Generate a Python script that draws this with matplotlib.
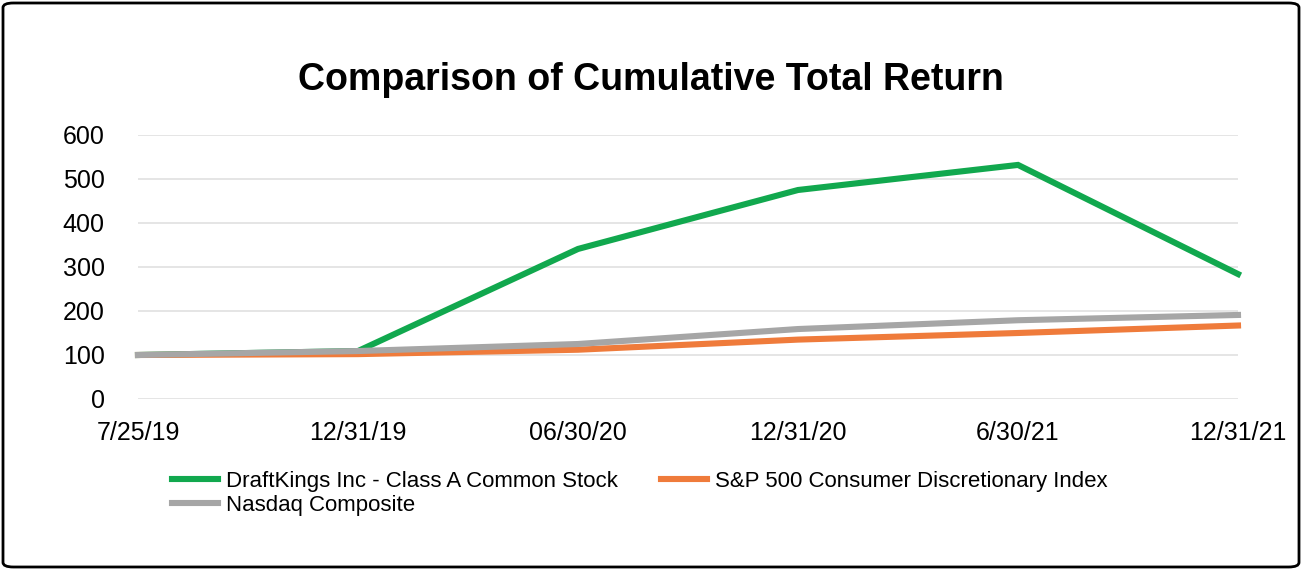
import matplotlib
matplotlib.use("Agg")
import matplotlib.pyplot as plt
from matplotlib.patches import FancyBboxPatch

categories = ["7/25/19", "12/31/19", "06/30/20", "12/31/20", "6/30/21", "12/31/21"]
draftkings = [100, 109, 341, 475, 532, 284]
sp500_cd = [100, 102, 112, 135, 150, 167]
nasdaq = [100, 109, 125, 159, 179, 191]
yticks = [0, 100, 200, 300, 400, 500, 600]

plt.rcParams['font.family'] = ['Liberation Sans', 'DejaVu Sans']

fig = plt.figure(figsize=(13.02, 5.70), dpi=100)
W, H = 1302, 570
ax = fig.add_axes([138 / W, 1 - 399 / H, (1238 - 138) / W, (399 - 135) / H])

x = list(range(len(categories)))
l1, = ax.plot(x, draftkings, color='#11A84E', lw=4.4, solid_joinstyle='miter',
              clip_on=False, zorder=3, label="DraftKings Inc - Class A Common Stock")
l2, = ax.plot(x, sp500_cd, color='#EF7B3B', lw=4.4, clip_on=False, zorder=4,
              label="S&P 500 Consumer Discretionary Index")
l3, = ax.plot(x, nasdaq, color='#A6A6A6', lw=4.4, clip_on=False, zorder=5,
              label="Nasdaq Composite")

ax.set_xlim(0, len(categories) - 1)
ax.set_ylim(0, 600)
ax.set_yticks(yticks)
ax.set_xticks(x)
ax.set_xticklabels(categories, fontsize=18)
ax.tick_params(axis='y', labelsize=18, length=0, pad=24)
ax.tick_params(axis='x', length=0, pad=16)
ax.grid(axis='y', color='#E3E3E3', lw=1.3)
ax.set_axisbelow(True)
for s in ax.spines.values():
    s.set_visible(False)

fig.text(651 / W, 1 - 80 / H, "Comparison of Cumulative Total Return",
         ha='center', va='center', fontsize=27, fontweight='bold')

leg = fig.legend(handles=[l1, l3, l2], ncol=2, loc='upper left',
                 bbox_to_anchor=(172 / W, 1 - 471 / H), frameon=False,
                 prop={'size': 16},
                 handlelength=2.07, handletextpad=0.36, columnspacing=1.94,
                 labelspacing=0.12, borderaxespad=0, borderpad=0)

border = FancyBboxPatch((3 / W, 3 / H), (W - 6) / W, (H - 6) / H,
                        boxstyle="round,pad=0,rounding_size=0.008",
                        transform=fig.transFigure, fill=False,
                        edgecolor='black', lw=2)
fig.patches.append(border)

fig.savefig("out.png", dpi=100)
